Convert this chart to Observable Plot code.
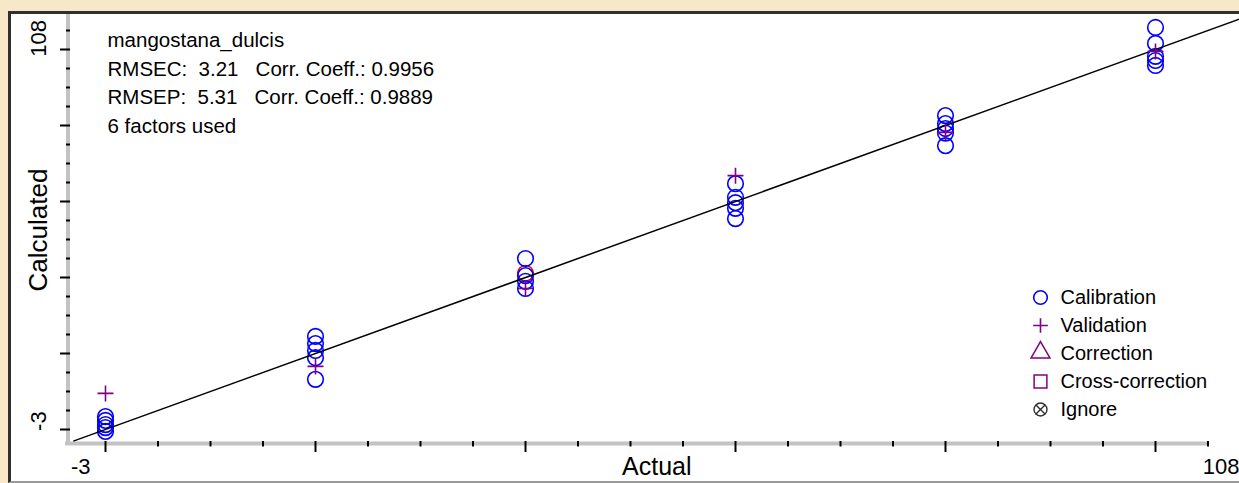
<!DOCTYPE html>
<html>
<head>
<meta charset="utf-8">
<script src="https://cdn.jsdelivr.net/npm/d3@7"></script>
<script src="https://cdn.jsdelivr.net/npm/@observablehq/plot@0.6"></script>
<style>
  html, body { margin: 0; padding: 0; overflow: hidden; background: #F7E8C8; }
  #wrap { position: relative; width: 1239px; height: 483px; overflow: hidden; background: #F7E8C8; font-family: "Liberation Sans", Arial, sans-serif; }
  #frame { position: absolute; left: 8px; top: 11px; width: 1250px; height: 472px; box-sizing: border-box;
           background: #fff; border-left: 3px solid #303030; border-top: 3px solid #303030; border-bottom: 2px solid #9a9a9a; }
  #chart { position: absolute; left: 0; top: 0; }
  #legend { position: absolute; left: 1020px; top: 280px; }
</style>
</head>
<body>
<div id="wrap">
  <div id="frame"></div>
  <div id="chart"></div>
  <div id="legend"></div>
</div>
<script>
// ---- data ----
const calActual    = [0, 0, 0, 0, 0,   20, 20, 20, 20, 20,   40, 40, 40, 40,   60, 60, 60, 60, 60,   80, 80, 80, 80, 80,   100, 100, 100, 100, 100];
const calPredicted = [3.4, 2.4, 1.3, 0.5, -0.5,   24.5, 22.6, 20.8, 18.9, 13.2,   45.0, 40.5, 39.0, 37.1,   64.7, 61.1, 59.7, 58.2, 55.5,   82.6, 80.5, 79.2, 78.0, 74.7,   105.8, 101.6, 98.2, 97.1, 95.8];
const valActual    = [0, 20, 40, 60, 80, 100];
const valPredicted = [9.5, 16.6, 37.1, 66.8, 78.2, 99.5];
const markedActual    = [40];
const markedPredicted = [41.1];
const diagonal = [-3, 108];
const axisRange = [-3, 108];
const xMajorTicks = [0, 20, 40, 60, 80, 100];
const xMinorTicks = [5, 10, 15, 25, 30, 35, 45, 50, 55, 65, 70, 75, 85, 90, 95, 105];
const yMajorTicks = [0, 20, 40, 60, 80, 100];
const yMinorTicks = [5, 10, 15, 25, 30, 35, 45, 50, 55, 65, 70, 75, 85, 90, 95, 105];
const axisEndLabels = ["-3", "108"];
const xAxisEnd = 105;
const annotationLines = [
  "mangostana_dulcis",
  "RMSEC:\u00a0 3.21 \u00a0\u00a0Corr. Coeff.: 0.9956",
  "RMSEP:\u00a0 5.31 \u00a0\u00a0Corr. Coeff.: 0.9889",
  "6 factors used"
];
const legendLabels  = ["Calibration", "Validation", "Correction", "Cross-correction", "Ignore"];
const legendSymbols = ["circle", "plus", "triangle", "square", "circle"];
const legendColors  = ["#0000FF", "#800080", "#800080", "#800080", "#303030"];

// ---- tables ----
const cal = calActual.map((a, i) => ({actual: a, predicted: calPredicted[i]}));
const val = valActual.map((a, i) => ({actual: a, predicted: valPredicted[i]}));
const marked = markedActual.map((a, i) => ({actual: a, predicted: markedPredicted[i]}));
const diag = diagonal.map(v => ({actual: v, predicted: v}));
const legendItems = legendLabels.map((l, i) => ({label: l, symbol: legendSymbols[i], color: legendColors[i]}));

const font = "Liberation Sans, Arial, sans-serif";

const chart = Plot.plot({
  width: 1239,
  height: 483,
  marginLeft: 73.5,
  marginRight: 0,
  marginTop: 18.6,
  marginBottom: 42.6,
  x: {domain: axisRange, axis: null},
  y: {domain: axisRange, axis: null},
  style: {background: "transparent", fontFamily: font, color: "#000"},
  marks: [
    // axis bands
    Plot.ruleX([axisRange[0]], {dx: -6, insetTop: -4.6, insetBottom: -4.6, stroke: "#c3c3c3", strokeWidth: 4}),
    Plot.ruleY([axisRange[0]], {x1: axisRange[0], x2: xAxisEnd, dy: 2.6, insetLeft: -8.5, stroke: "#c3c3c3", strokeWidth: 4}),
    // ticks
    Plot.axisX(xMajorTicks, {anchor: "bottom", tickSize: 11, fill: "none", label: null, stroke: "#000", strokeWidth: 2, dy: 0.6}),
    Plot.axisX(xMinorTicks, {anchor: "bottom", tickSize: 5.5, fill: "none", label: null, stroke: "#000", strokeWidth: 2, dy: 0.6}),
    Plot.axisY(yMajorTicks, {anchor: "left", tickSize: 10, fill: "none", label: null, stroke: "#000", strokeWidth: 2, dx: -3.5}),
    Plot.axisY(yMinorTicks, {anchor: "left", tickSize: 4, fill: "none", label: null, stroke: "#000", strokeWidth: 2, dx: -3.5}),
    // data
    Plot.dot(marked, {x: "actual", y: "predicted", r: 7.8, stroke: "#FF0000", strokeWidth: 1.6}),
    Plot.dot(cal, {x: "actual", y: "predicted", r: 7.8, stroke: "#0000FF", strokeWidth: 1.6}),
    Plot.line(diag, {x: "actual", y: "predicted", stroke: "#000", strokeWidth: 1.5}),
    Plot.dot(val, {x: "actual", y: "predicted", symbol: "plus", r: 5.2, stroke: "#800080", strokeWidth: 1.6}),
    // annotation
    Plot.text([annotationLines.join("\n")], {frameAnchor: "top-left", textAnchor: "start", lineAnchor: "top",
      lineHeight: 1.39, fontSize: 20.5, dx: 33.5, dy: 8, fill: "#000"}),
    // axis titles
    Plot.text(["Calculated"], {frameAnchor: "left", rotate: -90, textAnchor: "middle", lineAnchor: "middle", dx: -35.5, fontSize: 26, fill: "#000"}),
    Plot.text(["Actual"], {frameAnchor: "bottom", textAnchor: "middle", lineAnchor: "middle", dy: 26, fontSize: 25, fill: "#000"}),
    // end labels
    Plot.text([axisEndLabels[0]], {x: axisRange[0], frameAnchor: "bottom", textAnchor: "start", lineAnchor: "middle", dx: -3, dy: 26, fontSize: 22, fill: "#000"}),
    Plot.text([axisEndLabels[1]], {x: axisRange[1], frameAnchor: "bottom", textAnchor: "end", lineAnchor: "middle", dy: 26, fontSize: 22, fill: "#000"}),
    Plot.text([axisEndLabels[1]], {y: axisRange[1], frameAnchor: "left", rotate: -90, textAnchor: "end", lineAnchor: "middle", dx: -35.5, dy: 1, fontSize: 22, fill: "#000"}),
    Plot.text([axisEndLabels[0]], {y: axisRange[0], frameAnchor: "left", rotate: -90, textAnchor: "start", lineAnchor: "middle", dx: -35.5, dy: -10, fontSize: 22, fill: "#000"})
  ]
});
document.getElementById("chart").append(chart);

const legend = Plot.plot({
  width: 215,
  height: 150,
  marginLeft: 0,
  marginRight: 0,
  marginTop: 16,
  marginBottom: 20,
  x: {axis: null},
  y: {type: "point", domain: legendLabels, padding: 0, axis: null},
  style: {background: "transparent", fontFamily: font, color: "#000"},
  marks: [
    Plot.dot(legendItems.filter(d => d.symbol === "circle" && d.label !== "Ignore"), {y: "label", frameAnchor: "left", dx: 20, r: 6.8, stroke: "color", strokeWidth: 1.6}),
    Plot.dot(legendItems.filter(d => d.symbol === "plus"), {y: "label", frameAnchor: "left", dx: 20, symbol: "plus", r: 4.8, stroke: "color", strokeWidth: 1.6}),
    Plot.dot(legendItems.filter(d => d.symbol === "triangle"), {y: "label", frameAnchor: "left", dx: 20, dy: -1, symbol: "triangle", r: 7, stroke: "color", strokeWidth: 1.5}),
    Plot.dot(legendItems.filter(d => d.symbol === "square"), {y: "label", frameAnchor: "left", dx: 20, symbol: "square", r: 7.2, stroke: "color", strokeWidth: 1.5}),
    Plot.dot(legendItems.filter(d => d.label === "Ignore"), {y: "label", frameAnchor: "left", dx: 20, r: 6.5, stroke: "color", strokeWidth: 1.4}),
    Plot.dot(legendItems.filter(d => d.label === "Ignore"), {y: "label", frameAnchor: "left", dx: 20, symbol: "times", r: 4.4, stroke: "color", strokeWidth: 1.4}),
    Plot.text(legendItems, {y: "label", text: "label", frameAnchor: "left", textAnchor: "start", lineAnchor: "middle", dx: 40, fontSize: 20, fill: "#000"})
  ]
});
document.getElementById("legend").append(legend);
</script>
</body>
</html>
